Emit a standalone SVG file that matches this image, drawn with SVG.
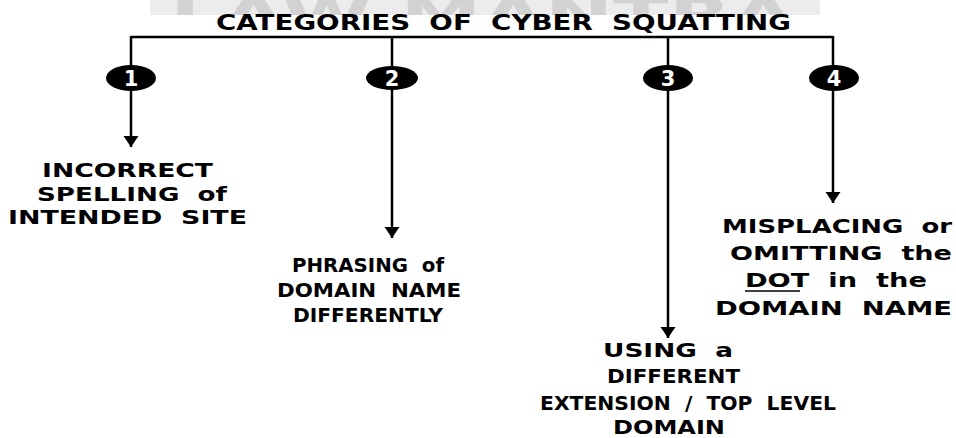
<svg xmlns="http://www.w3.org/2000/svg" width="956" height="438" viewBox="0 0 956 438">
  <style>
    .lbl { font-family: "DejaVu Sans", "Liberation Sans", sans-serif; font-weight: bold; font-size: 20px; fill: #000; white-space: pre; }
    .title { font-family: "DejaVu Sans", "Liberation Sans", sans-serif; font-weight: bold; font-size: 21px; fill: #000; white-space: pre; }
    .num { font-family: "DejaVu Sans", "Liberation Sans", sans-serif; font-weight: bold; font-size: 21px; fill: #fff; text-anchor: middle; }
    .wire { stroke: #000; stroke-width: 2.5; fill: none; }
    .badge { fill: #000; }
  </style>
  <defs>
    <!-- solid downward arrowhead; tip sits at the line end -->
    <marker id="head" markerUnits="userSpaceOnUse" markerWidth="12" markerHeight="16" refX="11" refY="8" orient="auto" viewBox="0 0 12 16">
      <polygon points="0,0.5 11,8 0,15.5" fill="#000"/>
    </marker>
    <clipPath id="bandClip">
      <rect x="150" y="0" width="670" height="15"/>
    </clipPath>
  </defs>

  <rect width="956" height="438" fill="#fff"/>

  <!-- faint banner strip across the top edge -->
  <g id="banner" clip-path="url(#bandClip)">
    <rect x="150" y="0" width="670" height="15" fill="#ececec"/>
    <text x="170" y="30" font-family="DejaVu Sans, sans-serif" font-weight="bold" font-size="44" fill="#d2d2d2" textLength="625" lengthAdjust="spacingAndGlyphs">LAW MANTRA</text>
  </g>

  <g id="title">
    <text class="title" x="216" y="30" textLength="575" lengthAdjust="spacingAndGlyphs">CATEGORIES  OF  CYBER  SQUATTING</text>
  </g>

  <!-- connectors: top bar and drops to each category -->
  <g id="connectors">
    <line class="wire" x1="131" y1="37" x2="833" y2="37"/>
    <line class="wire" x1="131" y1="36" x2="131" y2="147" marker-end="url(#head)"/>
    <line class="wire" x1="392" y1="36" x2="392" y2="238" marker-end="url(#head)"/>
    <line class="wire" x1="668" y1="36" x2="668" y2="338" marker-end="url(#head)"/>
    <line class="wire" x1="833" y1="36" x2="833" y2="203" marker-end="url(#head)"/>
  </g>

  <g id="node1">
    <ellipse class="badge" cx="131" cy="78" rx="25" ry="13"/>
    <text class="num" x="131" y="86">1</text>
    <text class="lbl" x="42" y="177" textLength="171" lengthAdjust="spacingAndGlyphs">INCORRECT</text>
    <text class="lbl" x="37" y="201" textLength="190" lengthAdjust="spacingAndGlyphs">SPELLING  of</text>
    <text class="lbl" x="8" y="224" textLength="239" lengthAdjust="spacingAndGlyphs">INTENDED  SITE</text>
  </g>

  <g id="node2">
    <ellipse class="badge" cx="392" cy="78" rx="26" ry="12"/>
    <text class="num" x="392" y="86">2</text>
    <text class="lbl" x="292" y="272" textLength="152" lengthAdjust="spacingAndGlyphs">PHRASING  of</text>
    <text class="lbl" x="277" y="297" textLength="184" lengthAdjust="spacingAndGlyphs">DOMAIN  NAME</text>
    <text class="lbl" x="293" y="322" textLength="150" lengthAdjust="spacingAndGlyphs">DIFFERENTLY</text>
  </g>

  <g id="node3">
    <ellipse class="badge" cx="668" cy="78" rx="25" ry="13"/>
    <text class="num" x="668" y="86">3</text>
    <text class="lbl" x="603" y="357" textLength="130" lengthAdjust="spacingAndGlyphs">USING  a</text>
    <text class="lbl" x="607" y="383" textLength="133" lengthAdjust="spacingAndGlyphs">DIFFERENT</text>
    <text class="lbl" x="540" y="410" textLength="296" lengthAdjust="spacingAndGlyphs">EXTENSION  /  TOP  LEVEL</text>
    <text class="lbl" x="613" y="434" textLength="112" lengthAdjust="spacingAndGlyphs">DOMAIN</text>
  </g>

  <g id="node4">
    <ellipse class="badge" cx="834" cy="78" rx="25" ry="13"/>
    <text class="num" x="834" y="86">4</text>
    <text class="lbl" x="722" y="233" textLength="230" lengthAdjust="spacingAndGlyphs">MISPLACING  or</text>
    <text class="lbl" x="730" y="260" textLength="222" lengthAdjust="spacingAndGlyphs">OMITTING  the</text>
    <text class="lbl" x="745" y="287" textLength="182" lengthAdjust="spacingAndGlyphs">DOT  in  the</text>
    <line x1="745" y1="291" x2="800" y2="291" stroke="#000" stroke-width="1.5"/>
    <text class="lbl" x="715" y="315" textLength="237" lengthAdjust="spacingAndGlyphs">DOMAIN  NAME</text>
  </g>
</svg>
